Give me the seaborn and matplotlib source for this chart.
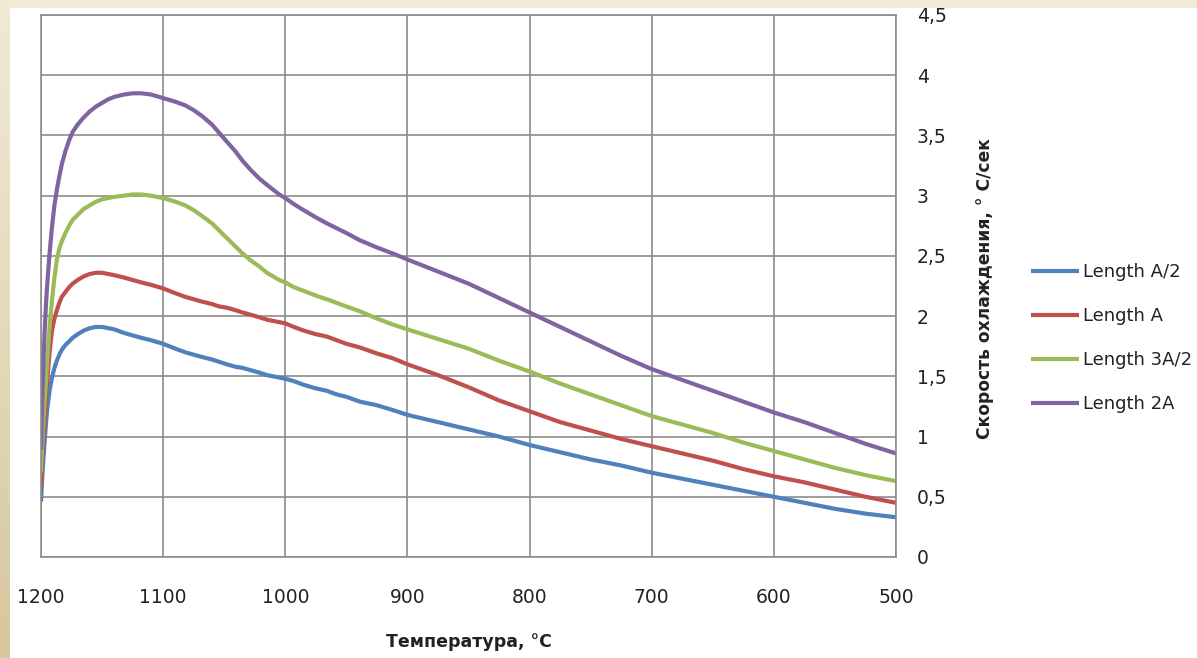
import numpy as np
import pandas as pd
import seaborn as sns
import matplotlib
matplotlib.use("Agg")
import matplotlib.pyplot as plt
from matplotlib.colors import LinearSegmentedColormap

# Temperature, °C
temperature = [1200, 1199.5, 1199, 1198, 1197, 1196, 1195,
               1193, 1191, 1189, 1187, 1185, 1183,
               1180, 1177, 1174, 1170, 1165, 1160, 1155, 1150, 1145, 1140,
               1132, 1125, 1118, 1110, 1100,
               1090, 1082, 1075, 1068, 1060,
               1054, 1048, 1041, 1035, 1028, 1021,
               1015, 1010, 1005, 1000,
               993, 985, 975, 966, 958, 950, 939, 925, 912, 900,
               875, 850, 825, 800, 775, 750, 725, 700,
               675, 650, 625, 600, 575, 550, 525, 500]

# Cooling rate, °C/s
length_a2 = [0.46, 0.56, 0.66, 0.82, 0.96, 1.10, 1.22,
             1.38, 1.49, 1.57, 1.63, 1.68, 1.72,
             1.76, 1.79, 1.82, 1.85, 1.88, 1.90, 1.91, 1.91, 1.90, 1.89,
             1.86, 1.84, 1.82, 1.80, 1.77,
             1.73, 1.70, 1.68, 1.66, 1.64,
             1.62, 1.60, 1.58, 1.57, 1.55, 1.53,
             1.51, 1.50, 1.49, 1.48,
             1.46, 1.43, 1.40, 1.38, 1.35, 1.33, 1.29, 1.26, 1.22, 1.18,
             1.12, 1.06, 1.00, 0.93, 0.87, 0.81, 0.76, 0.70,
             0.65, 0.60, 0.55, 0.50, 0.45, 0.40, 0.36, 0.33]
length_a = [0.56, 0.68, 0.80, 1.00, 1.15, 1.30, 1.45,
            1.70, 1.88, 1.98, 2.05, 2.11, 2.16,
            2.20, 2.24, 2.27, 2.30, 2.33, 2.35, 2.36, 2.36, 2.35, 2.34,
            2.32, 2.30, 2.28, 2.26, 2.23,
            2.19, 2.16, 2.14, 2.12, 2.10,
            2.08, 2.07, 2.05, 2.03, 2.01, 1.99,
            1.97, 1.96, 1.95, 1.94,
            1.91, 1.88, 1.85, 1.83, 1.80, 1.77, 1.74, 1.69, 1.65, 1.60,
            1.51, 1.41, 1.30, 1.21, 1.12, 1.05, 0.98, 0.92,
            0.86, 0.80, 0.73, 0.67, 0.62, 0.56, 0.50, 0.45]
length_3a2 = [0.70, 0.82, 0.95, 1.15, 1.30, 1.45, 1.60,
              1.91, 2.13, 2.32, 2.47, 2.56, 2.62,
              2.69, 2.75, 2.80, 2.84, 2.89, 2.92, 2.95, 2.97, 2.98, 2.99,
              3.00, 3.01, 3.01, 3.00, 2.98,
              2.95, 2.92, 2.88, 2.83, 2.77,
              2.71, 2.65, 2.58, 2.52, 2.46, 2.41,
              2.36, 2.33, 2.30, 2.28,
              2.24, 2.21, 2.17, 2.14, 2.11, 2.08, 2.04, 1.98, 1.93, 1.89,
              1.81, 1.73, 1.63, 1.54, 1.44, 1.35, 1.26, 1.17,
              1.10, 1.03, 0.95, 0.88, 0.81, 0.74, 0.68, 0.63]
length_2a = [0.89, 1.10, 1.30, 1.62, 1.88, 2.08, 2.25,
             2.52, 2.74, 2.92, 3.05, 3.16, 3.26,
             3.37, 3.46, 3.53, 3.59, 3.65, 3.70, 3.74, 3.77, 3.80, 3.82,
             3.84, 3.85, 3.85, 3.84, 3.81,
             3.78, 3.75, 3.71, 3.66, 3.59,
             3.52, 3.45, 3.37, 3.29, 3.21, 3.14,
             3.09, 3.05, 3.01, 2.98,
             2.93, 2.88, 2.82, 2.77, 2.73, 2.69, 2.63, 2.57, 2.52, 2.47,
             2.37, 2.27, 2.15, 2.03, 1.91, 1.79, 1.67, 1.56,
             1.47, 1.38, 1.29, 1.20, 1.12, 1.03, 0.94, 0.86]

series_names = ["Length A/2", "Length A", "Length 3A/2", "Length 2A"]
series_colors = ["#4F81BD", "#C0504D", "#9BBB59", "#8064A2"]

x_ticks = [1200, 1100, 1000, 900, 800, 700, 600, 500]
y_ticks = [0, 0.5, 1, 1.5, 2, 2.5, 3, 3.5, 4, 4.5]
y_tick_labels = ["0", "0,5", "1", "1,5", "2", "2,5", "3", "3,5", "4", "4,5"]

x_title = "Температура, °С"
y_title = "Скорость охлаждения, ° С/сек"

wide = pd.DataFrame({"T": temperature,
                     series_names[0]: length_a2,
                     series_names[1]: length_a,
                     series_names[2]: length_3a2,
                     series_names[3]: length_2a})
long = wide.melt(id_vars="T", var_name="series", value_name="rate")

sns.set_theme(style="white")
plt.rcParams["font.family"] = ["DejaVu Sans"]

W, H = 1197, 658
fig = plt.figure(figsize=(W / 100, H / 100), dpi=100, facecolor="white")

# beige frame strips along top and left edges
top_ax = fig.add_axes([0, 1 - 8 / H, 1, 8 / H])
top_ax.set_axis_off()
top_ax.add_patch(plt.Rectangle((0, 0), 1, 1, color="#F0EAD6", transform=top_ax.transAxes))
left_ax = fig.add_axes([0, 0, 10 / W, 1])
left_ax.set_axis_off()
grad = np.linspace(0, 1, 256).reshape(-1, 1)
cmap = LinearSegmentedColormap.from_list("frame", ["#F0EAD6", "#E4DABB", "#D5C79E"])
left_ax.imshow(grad, aspect="auto", cmap=cmap, extent=[0, 1, 0, 1], origin="upper")

ax = fig.add_axes([41 / W, 1 - 557 / H, (896 - 41) / W, (557 - 15) / H])
sns.lineplot(data=long, x="T", y="rate", hue="series", hue_order=series_names,
             palette=series_colors, linewidth=3.0, estimator=None, sort=True,
             legend=True, ax=ax)
for line in ax.get_lines():
    line.set_solid_joinstyle("round")
    line.set_solid_capstyle("butt")

ax.set_xlim(1200, 500)
ax.set_ylim(0, 4.5)
ax.set_xticks(x_ticks)
ax.set_xticklabels([str(t) for t in x_ticks])
ax.set_yticks(y_ticks)
ax.set_yticklabels(y_tick_labels)
ax.yaxis.tick_right()
ax.tick_params(axis="both", length=0, labelsize=13.5, colors="#222222")
ax.tick_params(axis="x", pad=22)
ax.tick_params(axis="y", pad=15)

ax.grid(True, color="#8C8C8C", linewidth=1.2)
ax.set_axisbelow(True)
for sp in ax.spines.values():
    sp.set_color("#8C8C8C")
    sp.set_linewidth(1.2)

ax.set_xlabel(x_title, fontsize=12.5, fontweight="bold", color="#222222", labelpad=19)
ax.set_ylabel("")
fig.text(985 / W, 1 - 289 / H, y_title, rotation=90, ha="center", va="center",
         fontsize=12.3, fontweight="bold", color="#222222")

handles, labels = ax.get_legend_handles_labels()
ax.legend(handles, labels, loc="center left", bbox_to_anchor=(1031 / W, 1 - 338 / H),
          bbox_transform=fig.transFigure, frameon=False, fontsize=13,
          handlelength=2.67, handletextpad=0.22, labelspacing=1.44,
          borderpad=0, borderaxespad=0, labelcolor="#222222")
for line in ax.get_legend().get_lines():
    line.set_linewidth(3.0)

fig.savefig("out.png", dpi=100, facecolor="white")
